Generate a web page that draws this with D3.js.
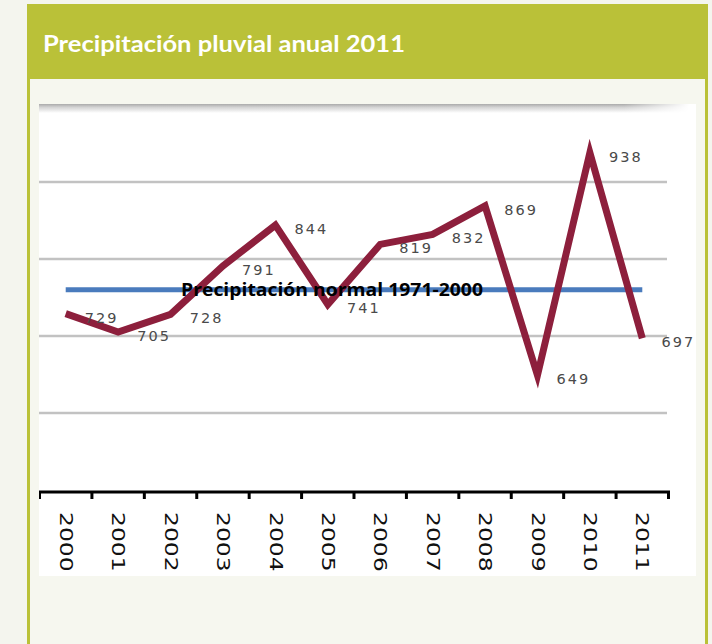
<!DOCTYPE html>
<html>
<head>
<meta charset="utf-8">
<script src="https://cdn.jsdelivr.net/npm/d3@7/dist/d3.min.js"></script>
<style>
  html, body { margin: 0; padding: 0; background: #f4f5ee; }
  svg { display: block; }
</style>
</head>
<body>
<svg id="chart" width="712" height="644"></svg>
<script>
const title = "Precipitación pluvial anual 2011";
const years = ["2000","2001","2002","2003","2004","2005","2006","2007","2008","2009","2010","2011"];
const values = [729, 705, 728, 791, 844, 741, 819, 832, 869, 649, 938, 697];
const normalValue = 760;
const normalLabel = "Precipitación normal 1971-2000";
const gridValues = [600, 700, 800, 900];
const topValue = 1000;

const svg = d3.select("#chart");
const defs = svg.append("defs");

// page frame
svg.append("rect").attr("x", 0).attr("y", 0).attr("width", 712).attr("height", 644).attr("fill", "#f4f5ee");
svg.append("rect").attr("x", 27).attr("y", 4).attr("width", 681).attr("height", 660).attr("fill", "#bac138");
svg.append("rect").attr("x", 30).attr("y", 79).attr("width", 675).attr("height", 580).attr("fill", "#f6f7ef");
svg.append("text")
  .attr("x", 43).attr("y", 52)
  .attr("font-family", "Lato, 'Open Sans', sans-serif")
  .attr("font-weight", 700)
  .attr("font-size", 23.5)
  .attr("textLength", 362)
  .attr("lengthAdjust", "spacingAndGlyphs")
  .attr("fill", "#ffffff")
  .text(title);

// chart "image" area
const img = { x: 39, y: 104, w: 657, h: 472 };
defs.append("clipPath").attr("id", "imgclip")
  .append("rect").attr("x", img.x).attr("y", img.y).attr("width", img.w).attr("height", img.h);
svg.append("rect").attr("x", img.x).attr("y", img.y).attr("width", img.w).attr("height", img.h).attr("fill", "#ffffff");

const g = svg.append("g").attr("clip-path", "url(#imgclip)");

const x = d3.scaleBand().domain(years).range([39.5, 668.5]);
const y = d3.scaleLinear().domain([600, 1000]).range([413, 105]);
const cx = d => x(d) + x.bandwidth() / 2;

// top shadow
const vg = defs.append("linearGradient").attr("id", "shadowV").attr("x1", 0).attr("y1", 0).attr("x2", 0).attr("y2", 1);
vg.append("stop").attr("offset", 0).attr("stop-color", "#aaaaaa");
vg.append("stop").attr("offset", 0.35).attr("stop-color", "#d2d2d2");
vg.append("stop").attr("offset", 1).attr("stop-color", "#ffffff");
const hg = defs.append("linearGradient").attr("id", "fadeH").attr("x1", 0).attr("y1", 0).attr("x2", 1).attr("y2", 0);
hg.append("stop").attr("offset", 0).attr("stop-color", "#fff");
hg.append("stop").attr("offset", 0.9).attr("stop-color", "#fff");
hg.append("stop").attr("offset", 1).attr("stop-color", "#000");
defs.append("mask").attr("id", "fadeMask").attr("maskUnits", "userSpaceOnUse")
  .attr("x", 0).attr("y", 0).attr("width", 712).attr("height", 644)
  .append("rect").attr("x", img.x).attr("y", img.y).attr("width", 650).attr("height", 12).attr("fill", "url(#fadeH)");
g.append("rect")
  .attr("x", img.x).attr("y", y(topValue) - 1).attr("width", 650).attr("height", 9)
  .attr("fill", "url(#shadowV)")
  .attr("mask", "url(#fadeMask)");

// gridlines
g.selectAll("line.grid").data(gridValues).join("line")
  .attr("class", "grid")
  .attr("x1", 39).attr("x2", 667)
  .attr("y1", d => y(d)).attr("y2", d => y(d))
  .attr("stroke", "#c2c2c2").attr("stroke-width", 2.5);

// normal line
g.append("line")
  .attr("x1", cx(years[0])).attr("x2", cx(years[years.length - 1]))
  .attr("y1", y(normalValue)).attr("y2", y(normalValue))
  .attr("stroke", "#4a7bbd").attr("stroke-width", 5);

// data line
const line = d3.line().x((d, i) => cx(years[i])).y(d => y(d));
g.append("path")
  .datum(values)
  .attr("d", line)
  .attr("fill", "none")
  .attr("stroke", "#8d1f3c")
  .attr("stroke-width", 7)
  .attr("stroke-linejoin", "miter")
  .attr("stroke-miterlimit", 10);

// data labels
g.selectAll("text.val").data(values).join("text")
  .attr("class", "val")
  .attr("x", (d, i) => cx(years[i]) + 36)
  .attr("y", d => y(d) + 4)
  .attr("text-anchor", "middle")
  .attr("dominant-baseline", "central")
  .attr("font-family", "'DejaVu Sans', sans-serif")
  .attr("font-size", 14.5)
  .attr("letter-spacing", 2)
  .attr("fill", "#4a4a4a")
  .text(d => d);

// normal label
g.append("text")
  .attr("x", 181).attr("y", y(normalValue) + 6)
  .attr("font-family", "'Open Sans', sans-serif")
  .attr("font-weight", 700)
  .attr("font-size", 18)
  .attr("textLength", 302)
  .attr("lengthAdjust", "spacingAndGlyphs")
  .attr("fill", "#000")
  .text(normalLabel);

// x axis
const axisY = 492;
const axis = g.append("g").attr("transform", `translate(0,${axisY})`);
axis.append("line")
  .attr("x1", 38).attr("x2", 670).attr("y1", 0).attr("y2", 0)
  .attr("stroke", "#000").attr("stroke-width", 3);
const boundaries = years.map(d => x(d)).concat([x.range()[1]]);
axis.selectAll("line.tick").data(boundaries).join("line")
  .attr("class", "tick")
  .attr("x1", d => d).attr("x2", d => d)
  .attr("y1", -1).attr("y2", 7)
  .attr("stroke", "#000").attr("stroke-width", 3);

const labAxis = g.append("g")
  .attr("transform", `translate(0,${axisY})`)
  .call(d3.axisBottom(x).tickSize(0).tickPadding(0));
labAxis.select(".domain").remove();
labAxis.selectAll(".tick text")
  .attr("x", 0).attr("y", 0).attr("dy", 0)
  .attr("transform", "translate(0,20) rotate(90) scale(1.38,1)")
  .attr("text-anchor", "start")
  .attr("dominant-baseline", "central")
  .attr("font-family", "'DejaVu Sans', sans-serif")
  .attr("font-size", 17)
  .attr("fill", "#111");
</script>
</body>
</html>
